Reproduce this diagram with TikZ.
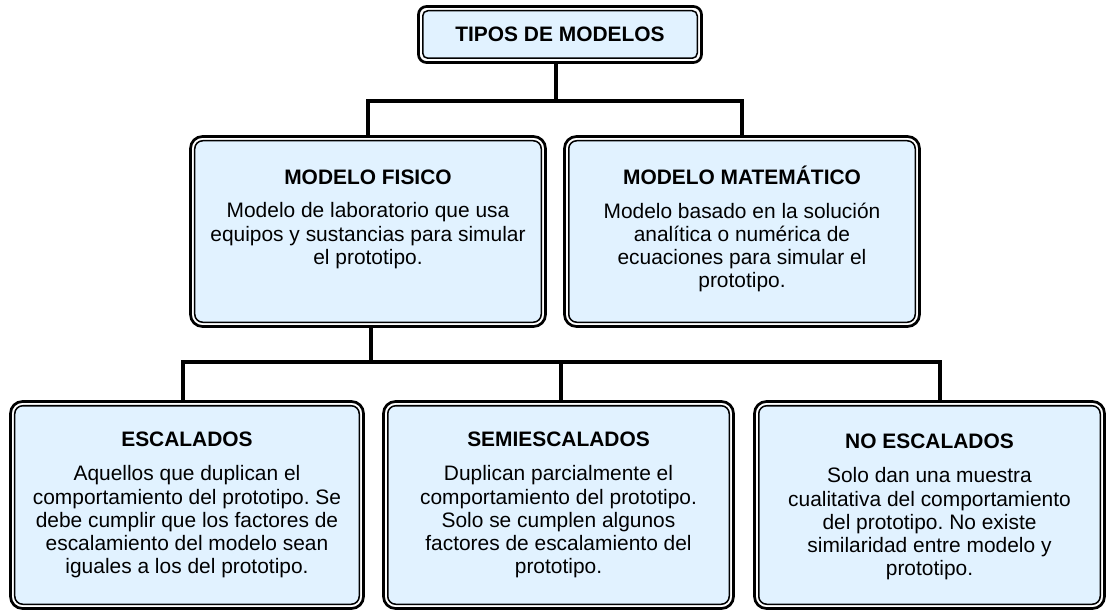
\documentclass[tikz,border=0pt]{standalone}
\usepackage{fontspec}
\setmainfont{Liberation Sans}
\frenchspacing
\definecolor{celeste}{RGB}{225,242,255}
\tikzset{
	marco/.style={draw=black,line width=2.7bp,fill=white,rounded corners=12bp,outer sep=0pt,inner sep=0pt},
	interior/.style={draw=black,line width=1.5bp,fill=celeste,rounded corners=8bp},
	linea/.style={line width=4bp},
	titulo/.style={font=\fontsize{21}{23.3}\selectfont\bfseries,anchor=base,inner sep=0pt},
	cuerpo/.style={font=\fontsize{21}{23.3}\selectfont,align=center,anchor=north,inner sep=0pt}
}

\begin{document}
\begin{tikzpicture}[x=1bp, y=-1bp]
	\useasboundingbox (0,0) rectangle (1109,613);
	\node[marco,rounded corners=8bp,minimum width=283bp,minimum height=56bp] (tipos) at (560,34.5) {};
	\node[marco,minimum width=355bp,minimum height=190bp] (fisico) at (368,231.5) {};
	\node[marco,minimum width=355bp,minimum height=190bp] (matematico) at (742,231.5) {};
	\node[marco,minimum width=353bp,minimum height=207bp] (escalados) at (187,505) {};
	\node[marco,minimum width=350bp,minimum height=207bp] (semi) at (558.5,505) {};
	\node[marco,minimum width=350bp,minimum height=207bp] (noesc) at (929.5,505) {};
	\draw[interior,rounded corners=5bp] ([shift={(4.25,4.25)}]tipos.north west) rectangle ([shift={(-4.25,-4.25)}]tipos.south east);
	\foreach \n in {fisico,matematico,escalados,semi,noesc}
		\draw[interior] ([shift={(4.25,4.25)}]\n.north west) rectangle ([shift={(-4.25,-4.25)}]\n.south east);

	\coordinate (b1) at (556,101);
	\coordinate (b2) at (371,362);
	\coordinate (e1) at (183,362);
	\coordinate (e2) at (561,362);
	\coordinate (e3) at (940,362);
	\draw[linea] (tipos.south -| b1) -- (b1);
	\draw[linea] (fisico.north) |- (b1) -| (matematico.north);
	\draw[linea] (fisico.south -| b2) -- (b2);
	\draw[linea] (escalados.north -| e1) -- (e1) -- (e3) -- (noesc.north -| e3);
	\draw[linea] (semi.north -| e2) -- (e2);

	\node[titulo] (tipos-t) at (560,41.5) {TIPOS DE MODELOS};
	\node[titulo] (fisico-t) at (368,184.5) {MODELO FISICO};
	\node[cuerpo] (fisico-c) at (368,202.5) {Modelo de laboratorio que usa\\equipos y sustancias para simular\\el prototipo.};
	\node[titulo] (matematico-t) at (742,184.5) {MODELO MATEMÁTICO};
	\node[cuerpo] (matematico-c) at (742,202.5) {Modelo basado en la solución\\analítica o numérica de\\ecuaciones para simular el\\prototipo.};
	\node[titulo] (escalados-t) at (187,446) {ESCALADOS};
	\node[cuerpo] (escalados-c) at (187,465.5) {Aquellos que duplican el\\comportamiento del prototipo. Se\\debe cumplir que los factores de\\escalamiento del modelo sean\\iguales a los del prototipo.};
	\node[titulo] (semi-t) at (558.5,446) {SEMIESCALADOS};
	\node[cuerpo] (semi-c) at (558.5,465.5) {Duplican parcialmente el\\comportamiento del prototipo.\\Solo se cumplen algunos\\factores de escalamiento del\\prototipo.};
	\node[titulo] (noesc-t) at (929.5,448) {NO ESCALADOS};
	\node[cuerpo] (noesc-c) at (929.5,467.5) {Solo dan una muestra\\cualitativa del comportamiento\\del prototipo. No existe\\similaridad entre modelo y\\prototipo.};
\end{tikzpicture}
\end{document}
